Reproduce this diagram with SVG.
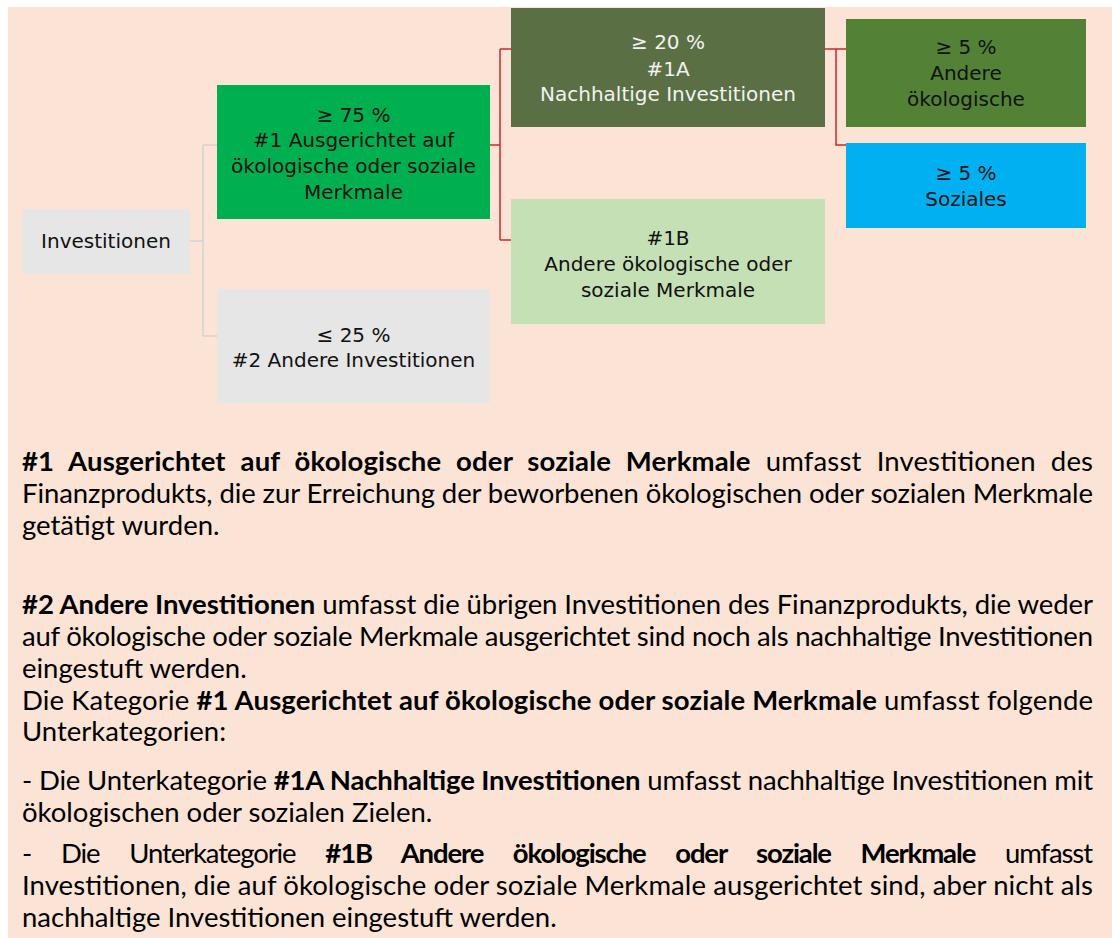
<svg xmlns="http://www.w3.org/2000/svg" width="1112" height="938" viewBox="0 0 1112 938">
<style>
.lbl{font-family:"DejaVu Sans",Verdana,sans-serif;font-size:20px;text-anchor:middle;fill:#111}
.wt{fill:#f2f2f2}
.body{font-family:Lato,"Liberation Sans",sans-serif;font-size:27.5px;fill:#000}
.b{font-weight:bold}
.gray{fill:none;stroke:#d2d2d2;stroke-width:1.5}
.red{fill:none;stroke:#d0262a;stroke-width:1.5}
</style>
<rect x="0" y="0" width="1112" height="938" fill="#ffffff"/>
<rect x="8" y="7" width="1104" height="931" fill="#fbe4d5"/>
<g id="connectors">
<path class="gray" d="M190 241 H203 M203 145 V336 M203 145 H217 M203 336 H217"/>
<path class="red" d="M490 145 H500 M500 49 V240 M500 49 H511 M500 240 H511"/>
<path class="red" d="M825 49 H846 M836 49 V145 H846"/>
</g>
<g id="n-invest">
<rect x="22" y="209" width="168" height="65" fill="#e6e6e6"/>
<text class="lbl" x="106" y="248">Investitionen</text>
</g>
<g id="n-1">
<rect x="217" y="85" width="273" height="134" fill="#00af50"/>
<text class="lbl" x="353.5" y="122">≥ 75 %</text>
<text class="lbl" x="353.5" y="147">#1 Ausgerichtet auf</text>
<text class="lbl" x="353.5" y="173">ökologische oder soziale</text>
<text class="lbl" x="353.5" y="199">Merkmale</text>
</g>
<g id="n-2">
<rect x="217" y="289" width="273" height="114" fill="#e6e6e6"/>
<text class="lbl" x="353.5" y="342">≤ 25 %</text>
<text class="lbl" x="353.5" y="367">#2 Andere Investitionen</text>
</g>
<g id="n-1a">
<rect x="511" y="8" width="314" height="119" fill="#5a7044"/>
<text class="lbl wt" x="668" y="49">≥ 20 %</text>
<text class="lbl wt" x="668" y="76">#1A</text>
<text class="lbl wt" x="668" y="101">Nachhaltige Investitionen</text>
</g>
<g id="n-1b">
<rect x="511" y="199" width="314" height="125" fill="#c5e0b4"/>
<text class="lbl" x="668" y="245">#1B</text>
<text class="lbl" x="668" y="271">Andere ökologische oder</text>
<text class="lbl" x="668" y="297">soziale Merkmale</text>
</g>
<g id="n-oeko">
<rect x="846" y="19" width="240" height="108" fill="#538135"/>
<text class="lbl" x="966" y="54">≥ 5 %</text>
<text class="lbl" x="966" y="80">Andere</text>
<text class="lbl" x="966" y="106">ökologische</text>
</g>
<g id="n-soz">
<rect x="846" y="143" width="240" height="85" fill="#00b0f0"/>
<text class="lbl" x="966" y="180">≥ 5 %</text>
<text class="lbl" x="966" y="206">Soziales</text>
</g>
<g id="description">
<text class="body" x="22" y="471" textLength="1071" lengthAdjust="spacing" word-spacing="8"><tspan class="b">#1 Ausgerichtet auf ökologische oder soziale Merkmale</tspan> umfasst Investitionen des</text>
<text class="body" x="22" y="503" textLength="1071" lengthAdjust="spacing">Finanzprodukts, die zur Erreichung der beworbenen ökologischen oder sozialen Merkmale</text>
<text class="body" x="22" y="535">getätigt wurden.</text>
<text class="body" x="22" y="614" textLength="1071" lengthAdjust="spacing"><tspan class="b">#2 Andere Investitionen</tspan> umfasst die übrigen Investitionen des Finanzprodukts, die weder</text>
<text class="body" x="22" y="646" textLength="1071" lengthAdjust="spacing">auf ökologische oder soziale Merkmale ausgerichtet sind noch als nachhaltige Investitionen</text>
<text class="body" x="22" y="678">eingestuft werden.</text>
<text class="body" x="22" y="710" textLength="1071" lengthAdjust="spacing">Die Kategorie <tspan class="b">#1 Ausgerichtet auf ökologische oder soziale Merkmale</tspan> umfasst folgende</text>
<text class="body" x="22" y="741">Unterkategorien:</text>
<text class="body" x="22" y="790" textLength="1071" lengthAdjust="spacing">- Die Unterkategorie <tspan class="b">#1A Nachhaltige Investitionen</tspan> umfasst nachhaltige Investitionen mit</text>
<text class="body" x="22" y="822">ökologischen oder sozialen Zielen.</text>
<text class="body" x="22" y="863" textLength="1071" lengthAdjust="spacing" word-spacing="24">- Die Unterkategorie <tspan class="b">#1B Andere ökologische oder soziale Merkmale</tspan> umfasst</text>
<text class="body" x="22" y="895" textLength="1071" lengthAdjust="spacing">Investitionen, die auf ökologische oder soziale Merkmale ausgerichtet sind, aber nicht als</text>
<text class="body" x="22" y="927">nachhaltige Investitionen eingestuft werden.</text>
</g>
</svg>
